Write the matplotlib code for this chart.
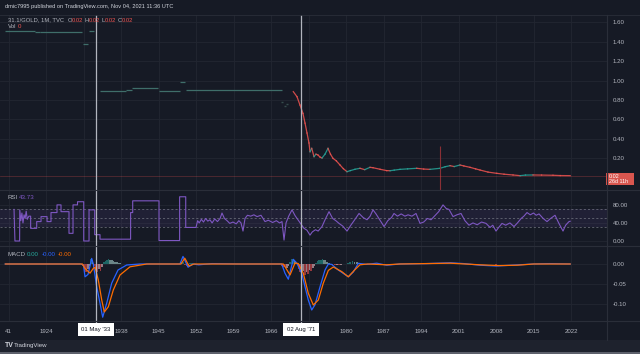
import matplotlib
matplotlib.use("Agg")
import matplotlib.pyplot as plt
from matplotlib.patches import Rectangle
from matplotlib.lines import Line2D

plt.rcParams["font.family"] = ["Liberation Sans", "DejaVu Sans"]

# ---------------- data ----------------
# early (sparse, flat monthly bars): start year, end year, value
early_start = [1916.35, 1921.95, 1922.88, 1930.90, 1932.03, 1934.08, 1938.93, 1940.05, 1945.09, 1949.01, 1950.13]
early_end   = [1921.95, 1922.88, 1930.72, 1931.84, 1933.00, 1938.93, 1940.05, 1944.91, 1949.00, 1949.95, 1968.00]
early_val   = [1.510,   1.497,   1.505,   1.377,   1.510,   0.892,   0.899,   0.920,   0.892,   0.985,   0.898]

free_years = [1968.1, 1968.6, 1969.0]
free_vals = [0.78, 0.74, 0.76]

price_years = [1970.16, 1970.85, 1971.41, 1971.97, 1972.35, 1972.72, 1973.09, 1973.28, 1973.6, 1974.03,
               1974.4, 1974.77, 1975.15, 1975.52, 1976.08, 1976.64, 1977.1, 1977.57, 1978.2, 1978.88,
               1979.5, 1980.19, 1980.8, 1981.68, 1982.61, 1983.5, 1984.48, 1985.04, 1986.35, 1987.6,
               1988.22, 1989.0, 1990.08, 1991.5, 1993.2, 1994.5, 1995.68, 1997.55, 1998.5, 1999.42,
               2000.2, 2001.28, 2002.0, 2003.15, 2004.2, 2005.02, 2006.5, 2008.13, 2009.5, 2011.18,
               2012.5, 2013.5, 2014.91, 2016.5, 2018.64, 2020.0, 2021.85]
price_vals = [0.885, 0.833, 0.747, 0.660, 0.560, 0.458, 0.355, 0.265, 0.300, 0.214,
              0.240, 0.231, 0.210, 0.200, 0.240, 0.300, 0.240, 0.197, 0.170, 0.128,
              0.090, 0.059, 0.070, 0.084, 0.094, 0.080, 0.104, 0.100, 0.084, 0.070,
              0.069, 0.075, 0.083, 0.088, 0.094, 0.086, 0.083, 0.094, 0.110, 0.121,
              0.112, 0.128, 0.118, 0.104, 0.088, 0.076, 0.055, 0.042, 0.033, 0.025,
              0.018, 0.024, 0.025, 0.024, 0.022, 0.019, 0.018]
spike_year = 1997.55
spike_high = 0.324
spike_low = -0.13
last_price = 0.018

rsi_years = [1918.03, 1918.2, 1919.07, 1919.1, 1919.3, 1919.5, 1919.7, 1919.9, 1920.1, 1920.3, 1920.5, 1920.8,
             1921.13, 1921.13, 1922.26, 1922.26, 1923.07, 1923.07, 1924.19, 1924.19, 1924.93, 1924.93,
             1926.05, 1926.05, 1926.8, 1926.8, 1928.29, 1928.29, 1929.04, 1929.04, 1929.88, 1929.88,
             1931.04, 1931.04, 1932.03, 1932.03, 1933.09, 1933.09, 1934.08, 1934.08, 1939.79, 1939.79,
             1940.18, 1940.18, 1945.09, 1945.09, 1948.94, 1948.94, 1950.08, 1950.08, 1952.0,
             1952.3, 1952.6, 1953.0, 1953.4, 1953.8, 1954.2, 1954.6, 1955.0, 1955.5, 1956.0, 1956.5,
             1956.85, 1957.3, 1957.8, 1958.3, 1958.9, 1959.5, 1960.0, 1960.4, 1960.77, 1961.15, 1961.6,
             1962.2, 1962.8, 1963.4, 1964.13, 1964.5, 1964.88, 1965.5, 1966.3, 1967.0, 1967.6, 1968.05,
             1968.43, 1968.8, 1969.3, 1969.92, 1970.5, 1971.04, 1971.6, 1972.16, 1972.7, 1973.28, 1973.7,
             1974.3, 1974.8, 1975.52, 1976.2, 1976.83, 1977.5, 1978.1, 1978.69, 1979.4, 1980.19, 1980.9,
             1981.5, 1982.43, 1983.2, 1983.92, 1984.5, 1985.04, 1985.6, 1986.4, 1987.1, 1987.8, 1988.5,
             1988.96, 1989.6, 1990.3, 1991.0, 1991.58, 1992.3, 1993.07, 1993.82, 1994.5, 1995.2, 1995.87,
             1996.5, 1997.3, 1998.11, 1998.7, 1999.23, 1999.98, 2000.7, 2001.47, 2002.2, 2002.96, 2003.7,
             2004.5, 2005.3, 2006.14, 2006.9, 2007.4, 2008.0, 2008.5, 2009.12, 2009.8, 2010.6, 2011.36,
             2012.0, 2012.7, 2013.2, 2013.79, 2014.4, 2015.0, 2015.5, 2016.03, 2016.8, 2017.52, 2018.2,
             2019.02, 2019.7, 2020.51, 2021.0, 2021.63, 2021.85]
rsi_vals = [70, 0, 0, 69, 45, 62, 40, 58, 50, 66, 48, 55,
            55, 28, 28, 43, 43, 54, 54, 43, 43, 63,
            63, 80, 80, 65, 65, 17, 17, 80, 80, 87,
            87, 0, 0, 69, 69, 14, 14, 4, 4, 63,
            63, 89, 89, 1, 1, 98, 98, 30, 30,
            45, 40, 48, 42, 50, 44, 47, 40, 49, 43, 50,
            62, 50, 45, 39, 42, 38, 45, 40, 22, 50, 57,
            55, 58, 54, 57, 50, 43, 46, 41, 45, 40, 43,
            2, 40, 55, 69, 56, 47, 38, 28, 24, 13, 20,
            25, 22, 32, 50, 65, 50, 45, 39, 33, 22, 35,
            45, 61, 52, 47, 55, 69, 60, 45, 32, 45, 52,
            61, 55, 60, 55, 58, 55, 61, 39, 42, 50, 47,
            55, 65, 80, 72, 70, 54, 58, 61, 45, 35, 40,
            36, 42, 39, 30, 35, 22, 30, 39, 35, 40, 32,
            40, 50, 55, 63, 58, 62, 57, 60, 50, 43, 50,
            57, 40, 22, 35, 43, 43.73]

macd_years = [1916.4, 1930.5, 1931.0, 1931.28, 1931.84, 1932.53, 1932.83, 1933.46, 1934.08, 1934.58,
              1935.33, 1936.26, 1937.44, 1939.06, 1941.55, 1949.0, 1949.57, 1950.51, 1951.44, 1952.5,
              1955.0, 1960.0, 1968.0, 1968.61, 1969.23, 1970.16, 1970.8, 1971.73, 1972.35, 1972.96,
              1973.6, 1974.21, 1975.15, 1976.08, 1976.7, 1977.33, 1978.56, 1980.43, 1981.36, 1982.3,
              1983.86, 1985.73, 1987.6, 1990.08, 1995.0, 1999.5, 2002.0, 2005.0, 2008.0, 2011.0,
              2015.0, 2018.0, 2021.85]
macd_vals = [0, 0, -0.003, -0.032, -0.026, 0.014, 0.0, -0.057, -0.098, -0.133,
             -0.098, -0.048, -0.015, -0.0025, 0, 0, 0.019, -0.008, 0, -0.002,
             0.001, 0, 0, -0.023, -0.038, 0.0117, 0.0025, -0.023, -0.057, -0.09,
             -0.115, -0.102, -0.057, -0.015, 0.0, -0.001, -0.015, -0.032, -0.02, 0.0017,
             -0.001, 0.002, -0.003, 0, 0.001, 0.003, 0.001, -0.003, -0.005, -0.003,
             0.0, 0.001, 0]

signal_years = [1916.4, 1930.8, 1931.28, 1932.21, 1932.83, 1933.15, 1933.76, 1934.4, 1934.88, 1935.63,
                1936.56, 1937.81, 1939.68, 1942.8, 1949.2, 1949.9, 1950.7, 1951.6, 1968.3, 1969.55,
                1970.48, 1971.1, 1972.03, 1972.96, 1973.9, 1974.83, 1975.76, 1976.7, 1977.63, 1979.2,
                1980.43, 1981.68, 1982.61, 1984.0, 1987.6, 1990.0, 1999.5, 2005.0, 2008.5, 2012.0,
                2015.0, 2021.85]
signal_vals = [0, 0, -0.011, -0.023, -0.011, -0.008, -0.04, -0.09, -0.12, -0.107,
               -0.065, -0.0275, -0.007, 0, 0, 0.0145, -0.005, 0, 0, -0.0275,
               0.0025, 0.001, -0.023, -0.0733, -0.1025, -0.09, -0.048, -0.016, -0.0075, -0.019,
               -0.032, -0.014, -0.002, 0.0, -0.002, 0, 0.002, -0.002, -0.004, -0.003,
               0, 0]

hist_years = [1930.9, 1931.2, 1931.5, 1931.8, 1932.1, 1932.4, 1932.7, 1933.0, 1933.3, 1933.6, 1933.9,
              1934.2, 1934.5, 1934.8, 1935.1, 1935.4, 1935.7, 1936.0, 1936.3, 1936.6, 1936.9, 1937.2,
              1937.5, 1937.8, 1938.1,
              1949.4, 1949.7, 1950.0, 1950.3, 1950.6, 1950.9, 1951.2,
              1968.1, 1968.4, 1968.7, 1969.0, 1969.3, 1969.6, 1969.9, 1970.2, 1970.5, 1970.8, 1971.1,
              1971.4, 1971.7, 1972.0, 1972.3, 1972.6, 1972.9, 1973.2, 1973.5, 1973.8, 1974.1, 1974.4,
              1974.7, 1975.0, 1975.3, 1975.6, 1975.9, 1976.2, 1976.5, 1976.8, 1977.1, 1977.5, 1977.9,
              1978.3, 1978.7, 1979.1, 1979.5, 1980.0, 1980.4, 1980.8, 1981.2, 1981.6, 1982.0, 1982.4,
              1983.0, 1986.0, 1987.0, 1988.0, 1999.0, 2006.0, 2008.0]
hist_vals = [-0.005, -0.018, -0.02, -0.012, -0.004, 0.012, 0.010, -0.006, -0.015, -0.02, -0.012,
             -0.018, -0.008, 0.004, 0.008, 0.010, 0.012, 0.011, 0.009, 0.007, 0.005, 0.004,
             0.003, 0.002, 0.001,
             0.004, 0.006, -0.003, -0.004, -0.002, 0.002, 0.003,
             -0.004, -0.008, -0.01, -0.009, -0.006, 0.006, 0.012, 0.013, 0.008, 0.002, -0.012,
             -0.02, -0.025, -0.018, -0.028, -0.02, -0.024, -0.015, -0.018, -0.01, -0.005, 0.003,
             0.007, 0.010, 0.011, 0.012, 0.011, 0.009, 0.005, 0.002, -0.001, -0.002, -0.003,
             -0.002, -0.003, -0.002, -0.001, 0.001, 0.003, 0.006, 0.007, 0.006, 0.004, 0.002,
             0.001, -0.001, -0.002, 0.001, 0.001, -0.001, -0.002]

tick_years = [1917, 1924, 1931, 1938, 1945, 1952, 1959, 1966, 1973, 1980, 1987, 1994, 2001, 2008, 2015, 2022]
tick_labels = ["41", "1924", "", "1938", "1945", "1952", "1959", "1966", "", "1980", "1987", "1994",
               "2001", "2008", "2015", "2022"]
price_ticks = [0.20, 0.40, 0.60, 0.80, 1.00, 1.20, 1.40, 1.60]
rsi_ticks = [0, 40, 80]
macd_ticks = [0.0, -0.05, -0.10]
marker_years = [1933.33, 1971.58]
marker_labels = ["01 May '33", "02 Aug '71"]

# ---------------- style ----------------
BG = "#161a25"
GRID = "#222631"
SEP = "#2a2e39"
TXT = "#b2b5be"
TEAL = "#26a69a"
RED = "#ef5350"
PURPLE = "#7e57c2"
BLUE = "#2962ff"
ORANGE = "#ff6d00"
W, H = 640, 354
XL = (1915.41, 2028.72)
FS = 4.4

fig = plt.figure(figsize=(W / 100, H / 100), dpi=100, facecolor=BG)


def px_axes(left, top, right, bottom):
    ax = fig.add_axes([left / W, 1 - bottom / H, (right - left) / W, (bottom - top) / H])
    ax.set_facecolor(BG)
    for s in ax.spines.values():
        s.set_visible(False)
    ax.set_xlim(*XL)
    ax.set_xticks(tick_years)
    ax.tick_params(axis="x", length=0, labelbottom=False)
    ax.grid(True, color=GRID, lw=0.6)
    ax.set_axisbelow(True)
    ax.yaxis.tick_right()
    ax.tick_params(axis="y", length=0, labelsize=FS, labelcolor=TXT, pad=4)
    return ax


def T(x, y, s, **kw):
    kw.setdefault("fontsize", FS)
    kw.setdefault("color", TXT)
    kw.setdefault("va", "center")
    return fig.text(x / W, 1 - y / H, s, **kw)


# header
T(5, 6.5, "dmic7995 published on TradingView.com, Nov 04, 2021 11:36 UTC", color="#d1d4dc", fontsize=4.1)

# ---------------- price pane ----------------
axp = px_axes(0, 15, 607, 190)
axp.set_ylim(-0.13, 1.676)
axp.set_yticks(price_ticks)
axp.set_yticklabels([f"{v:.2f}" for v in price_ticks])
axp.hlines(early_val, early_start, early_end, color="#3f6e6a", lw=0.9)
axp.plot(free_years, free_vals, ls="none", marker="_", ms=2, color="#3f5a58", alpha=0.8)
for i in range(len(price_years) - 1):
    c = TEAL if price_vals[i + 1] >= price_vals[i] else RED
    axp.plot(price_years[i:i + 2], price_vals[i:i + 2], color=c, lw=0.9, alpha=0.85)
axp.vlines(spike_year, spike_low, spike_high, color="#8a2f35", lw=0.8)
axp.axhline(last_price, color=RED, lw=0.5, alpha=0.35)

# legend price
T(8, 20, "31.1/GOLD, 1M, TVC", fontsize=4.2)
x0 = 68
for lab in ["O", "H", "L", "C"]:
    T(x0, 20, lab, fontsize=4.2)
    T(x0 + 3.8, 20, "0.02", color=RED, fontsize=4.2)
    x0 += 16.5
T(8, 27, "Vol")
T(18, 27, "0", color=RED)

# last price box
fig.patches.append(Rectangle((606 / W, 1 - 185 / H), 28 / W, 12 / H, transform=fig.transFigure,
                             facecolor="#d9564f", edgecolor="none"))
T(609, 176, "0.02", color="white", fontsize=3.9)
T(609, 181.8, "26d 11h", color="white", fontsize=3.9)

# ---------------- RSI pane ----------------
axr = px_axes(0, 190, 607, 246)
axr.set_ylim(-11.1, 113)
axr.set_yticks(rsi_ticks)
axr.set_yticklabels([f"{v:.2f}" for v in rsi_ticks])
axr.axhspan(30, 70, color=PURPLE, alpha=0.1, lw=0)
for lv in (70, 50, 30):
    axr.axhline(lv, color="#787b86", lw=0.6, ls=(0, (2.5, 2.5)), alpha=0.8)
axr.plot(rsi_years, rsi_vals, color=PURPLE, lw=0.8)
T(8, 198, "RSI")
T(19, 198, "43.73", color=PURPLE)

# ---------------- MACD pane ----------------
axm = px_axes(0, 246, 607, 321)
axm.set_ylim(-0.1425, 0.045)
axm.set_yticks(macd_ticks)
axm.set_yticklabels([f"{v:.2f}" for v in macd_ticks])
cols = []
for i, v in enumerate(hist_vals):
    prev = hist_vals[i - 1] if i > 0 else 0
    if v >= 0:
        cols.append("#26a69a" if v >= prev else "#b2dfdb")
    else:
        cols.append("#ff5252" if v <= prev else "#ffcdd2")
axm.bar(hist_years, hist_vals, width=0.3, color=cols, alpha=0.55, lw=0)
axm.plot(macd_years, macd_vals, color=BLUE, lw=0.9)
axm.plot(signal_years, signal_vals, color=ORANGE, lw=0.9)
T(8, 254, "MACD")
T(27, 254, "0.00", color=TEAL)
T(42, 254, "-0.00", color=BLUE)
T(58, 254, "-0.00", color=ORANGE)

# ---------------- time axis ----------------
axt = fig.add_axes([0, 1 - 340 / H, 607 / W, 19 / H])
axt.set_facecolor(BG)
for s in axt.spines.values():
    s.set_visible(False)
axt.set_xlim(*XL)
axt.set_ylim(0, 1)
axt.set_yticks([])
axt.set_xticks(tick_years)
axt.set_xticklabels(tick_labels)
axt.tick_params(axis="x", length=0, labelsize=FS, labelcolor=TXT, pad=-8.0)

# crosshair markers
for ax in (axp, axr, axm):
    for yr in marker_years:
        ax.axvline(yr, color="#b2b5be", lw=0.9, zorder=5)
for yr, lab in zip(marker_years, marker_labels):
    axt.axvline(yr, ymin=0.9, ymax=1, color="#b2b5be", lw=0.9)
    axt.text(yr, 0.55, lab, ha="center", va="center", fontsize=4.3, color="#131722",
             bbox=dict(boxstyle="square,pad=0.6", fc="white", ec="none"))

# separators
for y in (190, 246, 321):
    fig.lines.append(Line2D([0, 1], [1 - y / H, 1 - y / H], transform=fig.transFigure, color=SEP, lw=0.8))
fig.lines.append(Line2D([607 / W, 607 / W], [1 - 340 / H, 1 - 15 / H], transform=fig.transFigure, color=SEP, lw=0.8))
fig.lines.append(Line2D([0, 1], [1 - 15 / H, 1 - 15 / H], transform=fig.transFigure, color=SEP, lw=0.6))

# footer
fig.patches.append(Rectangle((0, 0), 1, 14 / H, transform=fig.transFigure, facecolor="#1e222d", edgecolor="none"))
fig.patches.append(Rectangle((0, 0), 1, 2 / H, transform=fig.transFigure, facecolor="#5d606b", edgecolor="none"))
T(5, 345.5, "TV", fontsize=5, fontweight="bold", color="#d1d4dc")
T(14, 345.5, "TradingView", fontsize=4.4, color="#d1d4dc")

fig.savefig("out.png", dpi=100, facecolor=BG)
